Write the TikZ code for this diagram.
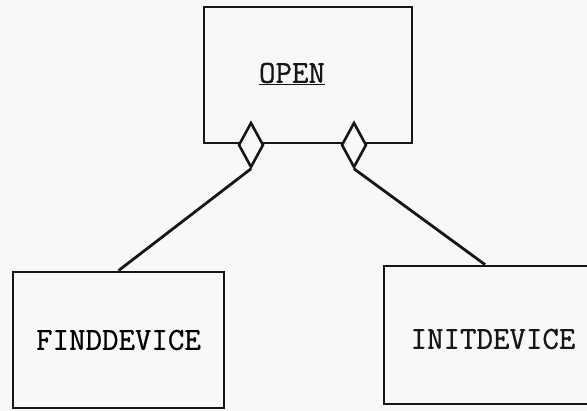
\documentclass[tikz,border=0pt]{standalone}
\usepackage{fontspec}
\newfontfamily\typerfont[FakeBold=0.8]{Latin Modern Mono}
\usepackage{xcolor}
\definecolor{cInk}{HTML}{161616}
\definecolor{cPaper}{HTML}{F8F8F8}
\usepackage{tikz}
\usetikzlibrary{shapes.geometric}
\tikzset{
  node-box/.style={draw=cInk,line width=2.8pt,align=center,
    font=\typerfont\fontsize{32}{34}\selectfont},
  node-text/.style={font=\typerfont\fontsize{32}{34}\selectfont,text=cInk},
  node-link/.style={draw=cInk,line width=2.6pt,diamond,fill=cPaper,
    inner sep=0pt,minimum width=25pt,minimum height=45pt},
  link/.style={draw=cInk,line width=2.8pt},
}

\begin{document}
\begin{tikzpicture}[x=1pt,y=-1pt]
  \fill[cPaper] (0,0) rectangle (587,411);
  \clip (0,0) rectangle (587,411);
  \node[node-box,minimum width=208pt,minimum height=136pt] (open) at (308,75) {};
  \node[node-text] (openlabel) at (292,74) {\underline{OPEN}};
  \node[node-box,minimum width=211pt,minimum height=136pt] (find) at (118.5,340)
    {FINDDEVICE};
  \node[node-box,minimum width=216pt,minimum height=138pt] (init) at (492,335) {};
  \node[node-text] (initlabel) at (493,339) {INITDEVICE};
  % diamonds sit on the bottom edge of OPEN
  \node[node-link] (dfind) at (251,145) {};
  \node[node-link] (dinit) at (354,145) {};
  \draw[link] (dfind.south) -- (find.north);
  \draw[link] (dinit.south) -- ([xshift=-7pt]init.north);
\end{tikzpicture}
\end{document}
